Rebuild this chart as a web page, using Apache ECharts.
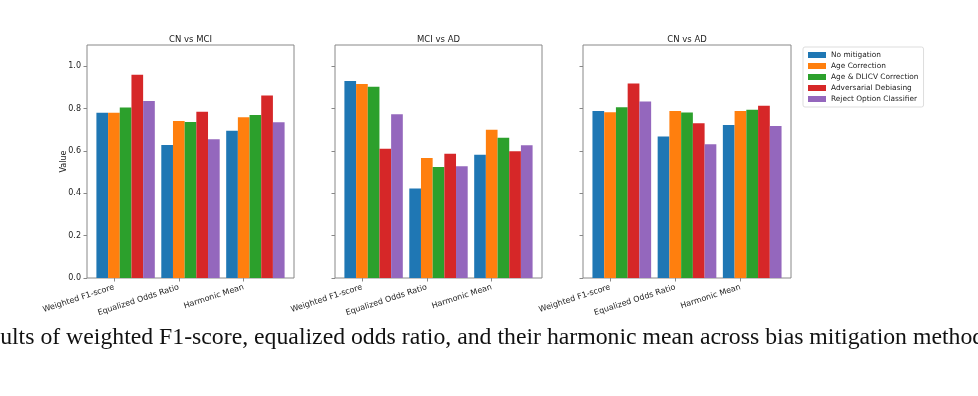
<!DOCTYPE html>
<html><head><meta charset="utf-8">
<script src="https://cdn.jsdelivr.net/npm/echarts@6/dist/echarts.min.js"></script>
<style>html,body{margin:0;padding:0;background:#fff}#c{width:978px;height:396px}</style>
</head><body><div id="c"></div>
<script>
const categories = ['Weighted F1-score', 'Equalized Odds Ratio', 'Harmonic Mean'];
const panelTitles = ['CN vs MCI', 'MCI vs AD', 'CN vs AD'];
const methods = ['No mitigation', 'Age Correction', 'Age & DLICV Correction', 'Adversarial Debiasing', 'Reject Option Classifier'];
const colors = ['#1f77b4', '#ff7f0e', '#2ca02c', '#d62728', '#9467bd'];
const yTicks = [0, 0.2, 0.4, 0.6, 0.8, 1.0];

// rows = methods, columns = categories
const cnVsMci = [
  [0.780, 0.628, 0.695],
  [0.780, 0.741, 0.759],
  [0.805, 0.737, 0.770],
  [0.960, 0.785, 0.862],
  [0.836, 0.655, 0.735]
];
const mciVsAd = [
  [0.930, 0.422, 0.582],
  [0.916, 0.566, 0.700],
  [0.903, 0.524, 0.662],
  [0.610, 0.587, 0.598],
  [0.773, 0.527, 0.627]
];
const cnVsAd = [
  [0.788, 0.668, 0.722],
  [0.783, 0.789, 0.788],
  [0.806, 0.781, 0.794],
  [0.918, 0.731, 0.813],
  [0.833, 0.632, 0.718]
];
const panelData = [cnVsMci, mciVsAd, cnVsAd];

const caption = 'Results of weighted F1-score, equalized odds ratio, and their harmonic mean across bias mitigation methods.';

const gridLefts = [87, 335, 583];
const gridWidths = [207, 207, 208];
const gridTop = 45, gridHeight = 233;
const tickShift = -0.18;
const axisColor = '#888';
const textColor = '#222';
const font = 'DejaVu Sans';

const grids = [], xAxes = [], yAxes = [], series = [], graphics = [];
panelData.forEach((panel, p) => {
  grids.push({
    left: gridLefts[p], top: gridTop, width: gridWidths[p], height: gridHeight,
    show: true, borderColor: axisColor, borderWidth: 1, backgroundColor: 'transparent'
  });
  xAxes.push({
    type: 'value', gridIndex: p, min: -0.595, max: 2.595,
    axisLine: { show: false, onZero: false }, splitLine: { show: false },
    axisTick: { show: true, length: 3.5, lineStyle: { color: axisColor },
      customValues: categories.map((c, k) => k + tickShift) },
    axisLabel: {
      customValues: categories.map((c, k) => k + tickShift),
      formatter: v => categories[Math.round(v - tickShift)],
      rotate: 18, margin: 9, fontSize: 8, color: textColor, fontFamily: font
    }
  });
  yAxes.push({
    type: 'value', gridIndex: p, min: 0, max: 1.1,
    name: p === 0 ? 'Value' : '', nameLocation: 'middle', nameGap: 19,
    nameMoveOverlap: false,
    nameTextStyle: { fontSize: 8, color: textColor, fontFamily: font },
    axisLine: { show: false, onZero: false }, splitLine: { show: false },
    axisTick: { show: true, length: 3.5, lineStyle: { color: axisColor }, customValues: yTicks },
    axisLabel: {
      show: p === 0, customValues: yTicks, formatter: v => v.toFixed(1),
      margin: 6, fontSize: 8, color: textColor, fontFamily: font
    }
  });
  panel.forEach((vals, m) => {
    series.push({
      type: 'bar', name: methods[m], xAxisIndex: p, yAxisIndex: p,
      data: vals.map((v, k) => [k, v]),
      itemStyle: { color: colors[m] },
      barGap: '0%', barCategoryGap: '10%',
      emphasis: { disabled: true }
    });
  });
  graphics.push({
    type: 'text', x: gridLefts[p] + gridWidths[p] / 2, y: 40,
    style: { text: panelTitles[p], align: 'center', verticalAlign: 'middle',
      fontSize: 8.5, fill: textColor, fontFamily: font }
  });
});

graphics.push({
  type: 'text', x: -35.5, y: 338,
  style: { text: caption, align: 'left', verticalAlign: 'middle',
    fontSize: 23.75, fill: '#111', fontFamily: 'Liberation Serif' }
});

const chart = echarts.init(document.getElementById('c'), null, { renderer: 'canvas' });
chart.setOption({
  animation: false,
  backgroundColor: '#fff',
  grid: grids,
  xAxis: xAxes,
  yAxis: yAxes,
  legend: {
    data: methods, orient: 'vertical', left: 803, top: 47,
    icon: 'rect', itemWidth: 18, itemHeight: 6, itemGap: 1,
    textStyle: { fontSize: 7.4, lineHeight: 10, color: textColor, fontFamily: font },
    borderColor: '#ddd', borderWidth: 1, borderRadius: 2, padding: [3, 5, 3, 5]
  },
  series: series,
  graphic: graphics
});
</script>
</body></html>
